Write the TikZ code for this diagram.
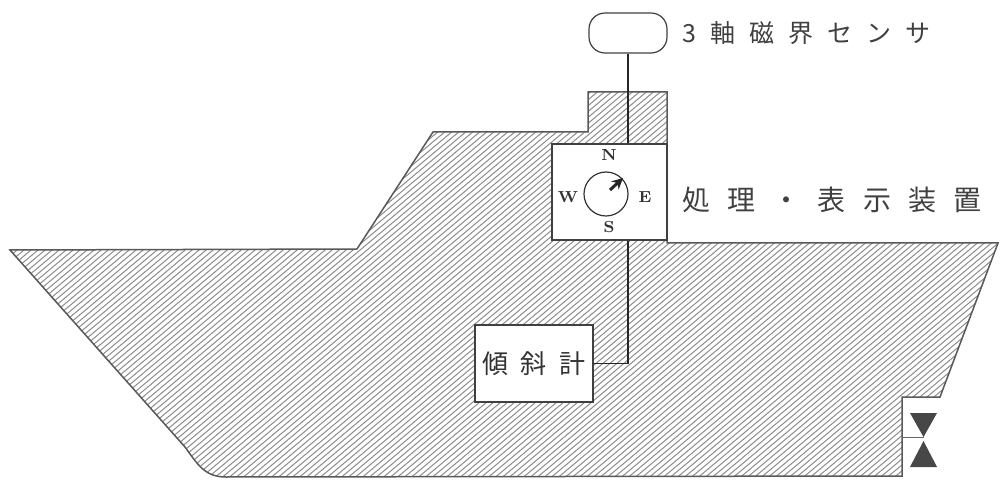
\documentclass[tikz,border=0pt]{standalone}
\usepackage{fontspec}
\newfontfamily\jp{Noto Sans CJK JP}
\usetikzlibrary{arrows.meta}
\begin{document}
\begin{tikzpicture}[x=0.5pt,y=-0.5pt,
  hull/.style={draw=black!65, line width=0.75pt, line join=miter},
  hatch/.style={draw=black!45, line width=0.5pt},
  box/.style={draw=black!75, fill=white, line width=0.6pt, inner sep=0pt},
  wire/.style={draw=black!85, line width=0.75pt},
  jplbl/.style={anchor=west, inner sep=0pt, text=black!75},
  dir/.style={font=\fontsize{8}{9}\selectfont\bfseries, inner sep=0pt, text=black!80},
  draftmark/.style={fill=black!72}]
\useasboundingbox (0,0) rectangle (1000,480);

% hatched hull with superstructure and mast
\begin{scope}
  \clip (10,250) -- (357,249) -- (433,132) -- (588,132) -- (588,92) -- (667,92)
    -- (667,243) -- (998,243) -- (940,397) -- (902,397) -- (902,476) -- (226,477)
    .. controls (205,477) and (198,465) .. (185,447) -- cycle;
  \foreach \i in {-600,-593,...,1000}
    \draw[hatch] (\i,480) -- ({\i+572},0);
\end{scope}
\draw[hull] (10,250) -- (357,249) -- (433,132) -- (588,132) -- (588,92) -- (667,92)
    -- (667,243) -- (998,243) -- (940,397) -- (902,397) -- (902,476) -- (226,477)
    .. controls (205,477) and (198,465) .. (185,447) -- cycle;

% draft marks at the stern
\draw[draw=black!60, line width=0.5pt] (902,437) -- (924,437);
\fill[draftmark] (910,413) -- (937,413) -- (923.5,437) -- cycle;
\fill[draftmark] (923.5,441) -- (910,467) -- (937,467) -- cycle;

% equipment
\node[box, rounded corners=8pt, minimum width=39pt, minimum height=20pt] (sensor) at (628,33) {};
\node[box, minimum width=57.5pt, minimum height=48pt] (disp) at (609.5,192) {};
\node[box, minimum width=59pt, minimum height=38.5pt,
      font=\jp\fontsize{13}{15}\selectfont, text=black!80] (incl) at (534,363.5)
      {傾\hspace{6.2pt}斜\hspace{6.2pt}計};

% cabling
\draw[wire] (sensor.south) -- (sensor.south |- disp.north);
\draw[wire] (sensor.south |- disp.south) |- (incl.east);

% compass face
\node[circle, draw=black!80, line width=0.6pt, minimum size=22pt, inner sep=0pt] (dial) at (606,194) {};
\node[dir] (dn) at (609,155) {N};
\node[dir] (ds) at (609,227) {S};
\node[dir] (dw) at (568,197) {W};
\node[dir] (de) at (645,197) {E};
\coordinate (ntail) at (610,190);
\coordinate (nhead) at (623,178);
\draw[line width=1.5pt, black!85, -{Stealth[length=5.5pt,width=5.5pt]}] (ntail) -- (nhead);

% labels
\node[jplbl, font=\jp\fontsize{12.5}{14}\selectfont] (sensorlbl) at (682,33)
  {3\hspace{7pt}軸\hspace{7pt}磁\hspace{7pt}界\hspace{7pt}セ\hspace{7pt}ン\hspace{7pt}サ};
\node[jplbl, font=\jp\fontsize{14}{16}\selectfont] (displbl) at (682,200)
  {処\hspace{8.6pt}理\hspace{8.6pt}・\hspace{8.6pt}表\hspace{8.6pt}示\hspace{8.6pt}装\hspace{8.6pt}置};
\end{tikzpicture}
\end{document}
